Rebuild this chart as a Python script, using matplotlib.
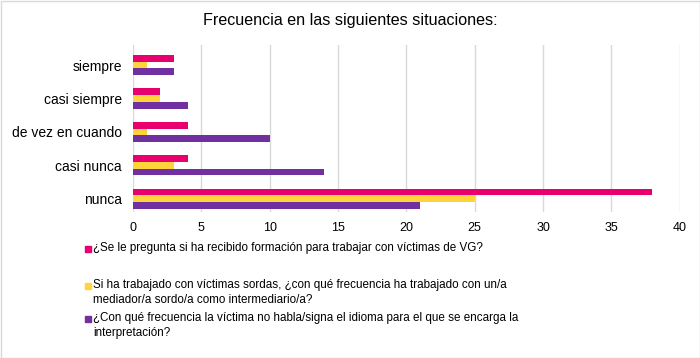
import matplotlib
matplotlib.use("Agg")
import matplotlib.pyplot as plt
from matplotlib.patches import Rectangle
import numpy as np

plt.rcParams["font.family"] = ["Liberation Sans", "DejaVu Sans"]

categories = ["nunca", "casi nunca", "de vez en cuando", "casi siempre", "siempre"]
formacion = [38, 4, 4, 2, 3]
mediador = [25, 3, 1, 2, 1]
no_habla = [21, 14, 10, 4, 3]

labels = [
    "¿Se le pregunta si ha recibido formación para trabajar con víctimas de VG?",
    "Si ha trabajado con víctimas sordas, ¿con qué frecuencia ha trabajado con un/a\nmediador/a sordo/a como intermediario/a?",
    "¿Con qué frecuencia la víctima no habla/signa el idioma para el que se encarga la\ninterpretación?",
]
colors = ["#E8006F", "#FFD43B", "#7030A0"]

fig = plt.figure(figsize=(7, 3.58), dpi=100)
ax = fig.add_axes([0.19, 0.408, 0.781, 0.466])

y = np.arange(len(categories))
h = 0.2
for i, vals in enumerate([formacion, mediador, no_habla]):
    ax.barh(y + h * (1 - i), vals, height=h, color=colors[i], zorder=3)

ax.set_xlim(0, 40)
ax.set_ylim(-0.4, 4.6)
ax.set_xticks(range(0, 41, 5))
ax.set_yticks(y)
ax.set_yticklabels(categories, fontsize=10)
ax.tick_params(axis="x", labelsize=9, length=0, pad=7)
ax.tick_params(axis="y", length=0, pad=8)
ax.grid(axis="x", color="#D9D9D9", lw=1, zorder=0)
for s in ax.spines.values():
    s.set_visible(False)

fig.text(0.5, 0.944, "Frecuencia en las siguientes situaciones:", ha="center", va="center", fontsize=11.6)

# legend drawn by hand, Excel style
leg_y = [249, 286, 319]
for c, lab, ly in zip(colors, labels, leg_y):
    fig.patches.append(Rectangle((85 / 700, 1 - (ly + 3) / 358), 6 / 700, 6 / 358,
                                 transform=fig.transFigure, color=c))
    fig.text(93 / 700, 1 - (ly - 7) / 358, lab, ha="left", va="top", fontsize=8.4, linespacing=1.3)

fig.patches.append(Rectangle((0.5 / 700, 0.5 / 358), 699 / 700, 357 / 358, transform=fig.transFigure,
                             fill=False, edgecolor="#D9D9D9", lw=1))

fig.savefig("out.png", dpi=100)
